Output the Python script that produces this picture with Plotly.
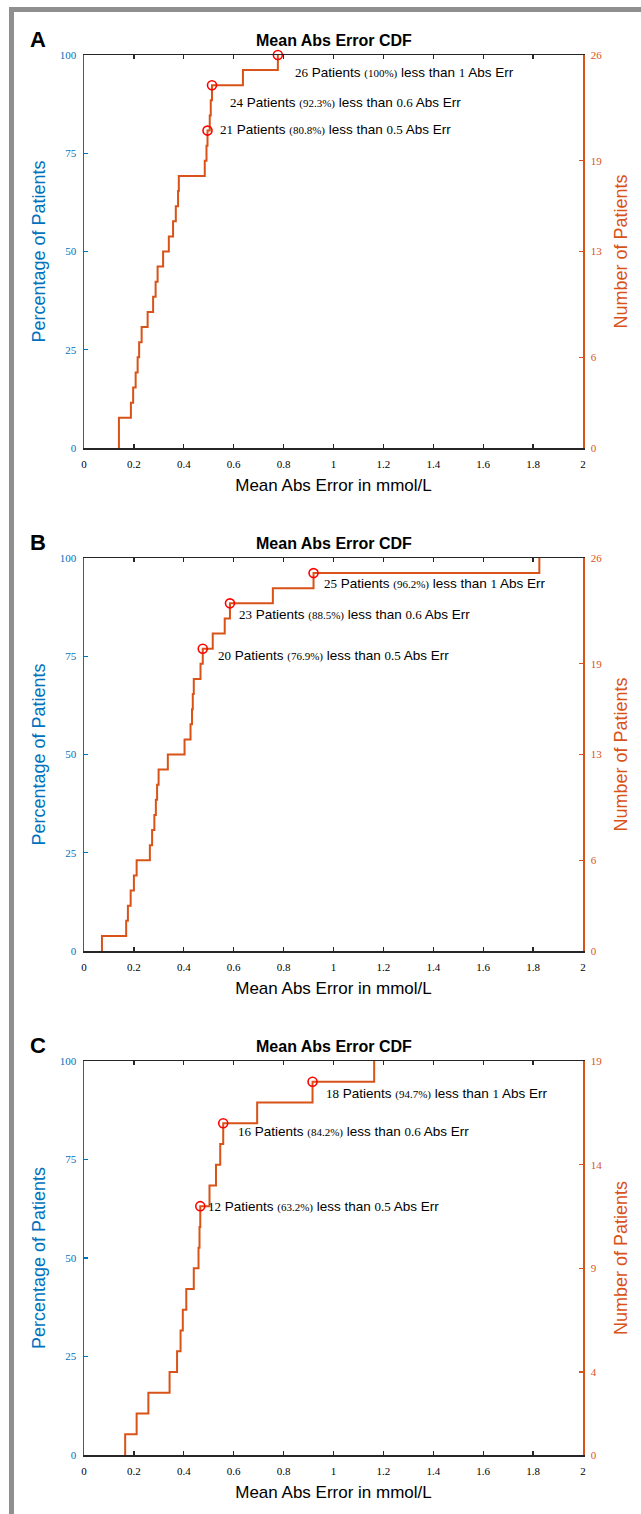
import plotly.graph_objects as go

# ---------------- data ----------------
panel_letters = ["A", "B", "C"]
chart_title = "Mean Abs Error CDF"
x_title = "Mean Abs Error in mmol/L"
y_left_title = "Percentage of Patients"
y_right_title = "Number of Patients"

# sorted mean absolute errors (mmol/L), one per patient
errors_A = [0.140, 0.140, 0.188, 0.197, 0.207, 0.215, 0.221, 0.231, 0.255, 0.277,
            0.287, 0.295, 0.317, 0.340, 0.357, 0.368, 0.377, 0.380, 0.484, 0.491,
            0.495, 0.504, 0.508, 0.513, 0.637, 0.777]
errors_B = [0.072, 0.169, 0.176, 0.187, 0.200, 0.211, 0.264, 0.273, 0.282, 0.288,
            0.293, 0.299, 0.336, 0.403, 0.427, 0.433, 0.436, 0.440, 0.467, 0.476,
            0.516, 0.564, 0.585, 0.757, 0.920, 1.825]
errors_C = [0.165, 0.211, 0.258, 0.343, 0.373, 0.387, 0.396, 0.410, 0.440, 0.459,
            0.463, 0.466, 0.503, 0.529, 0.546, 0.558, 0.694, 0.916, 1.163]

# highlighted patient counts and their thresholds
highlight_A = [21, 24, 26]
highlight_B = [20, 23, 25]
highlight_C = [12, 16, 18]
thresholds = ["0.5", "0.6", "1"]

left_ticks = [0, 25, 50, 75, 100]
right_ticks_A = [0, 6, 13, 19, 26]
right_ticks_B = [0, 6, 13, 19, 26]
right_ticks_C = [0, 4, 9, 14, 19]
x_ticks = [0, 0.2, 0.4, 0.6, 0.8, 1, 1.2, 1.4, 1.6, 1.8, 2]

# ---------------- layout constants ----------------
W, H = 641, 1514
BLUE = "#0072BD"
ORANGE = "#D95319"
RED = "#FF0000"
DARK = "#262626"
X_LEFT, X_RIGHT = 84, 583
Y_TOP, Y_BOT = 55, 1455
PW, PH = X_RIGHT - X_LEFT, Y_BOT - Y_TOP
panel_px = [(55, 448), (558, 951), (1061, 1455)]  # (top, bottom) in px
# label anchor positions (data coords: x, percent)
label_pos = [
    [(0.537, 81.1), (0.577, 88.0), (0.836, 95.6)],
    [(0.529, 75.3), (0.612, 85.7), (0.952, 93.4)],
    [(0.489, 63.0), (0.609, 82.1), (0.962, 91.8)],
]


def px_x(px):
    return (px - X_LEFT) / PW


def px_y(py):
    return (Y_BOT - py) / PH


panels = [
    (errors_A, highlight_A, right_ticks_A),
    (errors_B, highlight_B, right_ticks_B),
    (errors_C, highlight_C, right_ticks_C),
]

fig = go.Figure()
layout = dict(
    width=W, height=H, autosize=False,
    margin=dict(l=X_LEFT, r=W - X_RIGHT, t=Y_TOP, b=H - Y_BOT, pad=0),
    paper_bgcolor="white", plot_bgcolor="white",
    showlegend=False,
    font=dict(family="Liberation Sans, Arial, sans-serif", color="black"),
)
annotations = []
shapes = []

tick_font = "Liberation Serif, serif"
for i, (errs, hl, rticks) in enumerate(panels):
    n = len(errs)
    top, bot = panel_px[i]
    ydom = [px_y(bot), px_y(top)]
    xa = "x" if i == 0 else f"x{i + 1}"
    ya_l = f"y{2 * i + 1}" if i > 0 else "y"
    ya_r = f"y{2 * i + 2}"
    xkey = "xaxis" if i == 0 else f"xaxis{i + 1}"
    ylkey = "yaxis" if i == 0 else f"yaxis{2 * i + 1}"
    yrkey = f"yaxis{2 * i + 2}"

    xs = [errs[0]] + list(errs)
    ys = [0] + [100.0 * k / n for k in range(1, n + 1)]
    fig.add_trace(go.Scatter(x=xs, y=ys, mode="lines", line=dict(color=ORANGE, width=2, shape="hv"),
                             xaxis=xa, yaxis=ya_l, hoverinfo="skip"))
    fig.add_trace(go.Scatter(x=[None], y=[None], xaxis=xa, yaxis=ya_r, mode="lines", hoverinfo="skip"))
    hx = [errs[k - 1] for k in hl]
    hy = [100.0 * k / n for k in hl]
    fig.add_trace(go.Scatter(x=hx, y=hy, mode="markers",
                             marker=dict(symbol="circle-open", size=9, color=RED, line=dict(width=1.6, color=RED)),
                             xaxis=xa, yaxis=ya_l, hoverinfo="skip", cliponaxis=False))

    layout[xkey] = dict(domain=[0, 1], range=[0, 2], anchor=ya_l, tickvals=x_ticks,
                        ticktext=[f"{t:g}" for t in x_ticks], automargin=False,
                        ticks="inside", ticklen=4, tickwidth=1.3, tickcolor=DARK,
                        showline=True, linecolor=DARK, linewidth=1.5, mirror="ticks",
                        showgrid=False, zeroline=False, ticklabelstandoff=5,
                        tickfont=dict(family=tick_font, size=11, color="black"),
                        title=dict(text=x_title, font=dict(size=17, color="black"), standoff=10))
    layout[ylkey] = dict(domain=ydom, range=[0, 100], anchor=xa, tickvals=left_ticks,
                         ticks="inside", ticklen=4, tickwidth=1.3, tickcolor=BLUE, automargin=False,
                         showline=True, linecolor=BLUE, linewidth=1.5,
                         showgrid=False, zeroline=False, ticklabelstandoff=4,
                         tickfont=dict(family=tick_font, size=11, color=BLUE),
                         title=dict(text=y_left_title, font=dict(size=18, color=BLUE), standoff=9))
    layout[yrkey] = dict(domain=ydom, range=[0, n], anchor=xa, overlaying=ya_l, side="right",
                         tickvals=rticks, automargin=False,
                         ticks="inside", ticklen=4, tickwidth=1.3, tickcolor=ORANGE,
                         showline=True, linecolor=ORANGE, linewidth=1.5,
                         showgrid=False, zeroline=False, ticklabelstandoff=4,
                         tickfont=dict(family=tick_font, size=11, color=ORANGE),
                         title=dict(text=y_right_title, font=dict(size=18, color=ORANGE), standoff=13))

    # panel title and letter
    annotations.append(dict(text=f"<b>{chart_title}</b>", xref="paper", yref="paper",
                            x=px_x((X_LEFT + X_RIGHT) / 2), y=px_y(top - 15),
                            xanchor="center", yanchor="middle", showarrow=False,
                            font=dict(size=16, color="black")))
    annotations.append(dict(text=f"<b>{panel_letters[i]}</b>", xref="paper", yref="paper",
                            x=px_x(38), y=px_y(top - 16), xanchor="center", yanchor="middle",
                            showarrow=False, font=dict(size=22, color="black")))
    for j, k in enumerate(hl):
        pct = round(100.0 * k / n, 1)
        txt = (f"<span style='font-family:Liberation Serif;font-size:13px'>{k}</span> Patients "
               f"<span style='font-family:Liberation Serif;font-size:11px'>({pct:g}%)</span> less than "
               f"<span style='font-family:Liberation Serif;font-size:13px'>{thresholds[j]}</span> Abs Err")
        lx, ly = label_pos[i][j]
        annotations.append(dict(text=txt, xref=xa, yref=ya_l, x=lx, y=ly, xanchor="left",
                                yanchor="middle", showarrow=False,
                                font=dict(size=13.5, color="black")))

# gray frame
shapes.append(dict(type="line", xref="paper", yref="paper", x0=px_x(11.5), x1=px_x(11.5),
                   y0=px_y(H), y1=px_y(7), line=dict(color="#8F8F8F", width=5)))
shapes.append(dict(type="line", xref="paper", yref="paper", x0=px_x(9), x1=px_x(W),
                   y0=px_y(9.5), y1=px_y(9.5), line=dict(color="#8F8F8F", width=5)))

layout["annotations"] = annotations
layout["shapes"] = shapes
fig.update_layout(**layout)
fig.write_html("out.html", config={"displayModeBar": False, "staticPlot": True},
               post_script="document.body.style.margin='0px';document.body.style.overflow='hidden';")
